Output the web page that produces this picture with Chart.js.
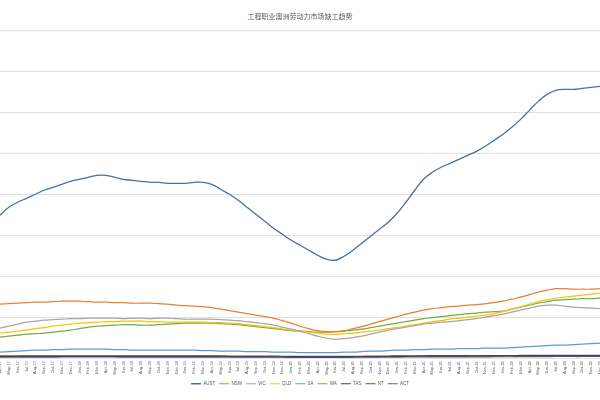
<!DOCTYPE html>
<html>
<head>
<meta charset="utf-8">
<script src="https://cdn.jsdelivr.net/npm/chart.js@4.4.0/dist/chart.umd.min.js"></script>
<style>
  body { margin: 0; background: #fff; }
  #wrap { width: 600px; height: 400px; }
</style>
</head>
<body>
<div id="wrap"><canvas id="trendChart" width="600" height="400"></canvas></div>
<script>
const months = [
  "Apr-17", "May-17", "Jun-17", "Jul-17", "Aug-17", "Sep-17", "Oct-17", "Nov-17", "Dec-17",
  "Jan-18", "Feb-18", "Mar-18", "Apr-18", "May-18", "Jun-18", "Jul-18", "Aug-18", "Sep-18", "Oct-18", "Nov-18", "Dec-18",
  "Jan-19", "Feb-19", "Mar-19", "Apr-19", "May-19", "Jun-19", "Jul-19", "Aug-19", "Sep-19", "Oct-19", "Nov-19", "Dec-19",
  "Jan-20", "Feb-20", "Mar-20", "Apr-20", "May-20", "Jun-20", "Jul-20", "Aug-20", "Sep-20", "Oct-20", "Nov-20", "Dec-20",
  "Jan-21", "Feb-21", "Mar-21", "Apr-21", "May-21", "Jun-21", "Jul-21", "Aug-21", "Sep-21", "Oct-21", "Nov-21", "Dec-21",
  "Jan-22", "Feb-22", "Mar-22", "Apr-22", "May-22", "Jun-22", "Jul-22", "Aug-22", "Sep-22", "Oct-22", "Nov-22", "Dec-22"
];

const aust = [
  3490, 3683, 3805, 3902, 4000, 4098, 4171, 4244, 4317, 4366, 4415, 4463, 4463, 4415, 4366, 4341, 4317,
  4293, 4293, 4268, 4268, 4268, 4293, 4293, 4244, 4122, 4000, 3854, 3683, 3512, 3341, 3171, 3024, 2878,
  2756, 2634, 2512, 2415, 2390, 2488, 2634, 2805, 2976, 3146, 3317, 3537, 3805, 4098, 4366, 4537, 4659,
  4756, 4854, 4951, 5049, 5171, 5317, 5463, 5634, 5829, 6049, 6268, 6439, 6537, 6561, 6561, 6585, 6610, 6634
];
const nsw = [
  1317, 1329, 1341, 1354, 1366, 1366, 1378, 1390, 1390, 1390, 1378, 1366, 1366, 1354, 1354, 1341, 1341,
  1341, 1329, 1317, 1293, 1280, 1268, 1256, 1232, 1195, 1159, 1122, 1085, 1049, 1012, 976, 915, 854,
  780, 720, 671, 646, 646, 671, 720, 768, 829, 890, 951, 1012, 1073, 1122, 1171, 1207, 1232,
  1256, 1268, 1293, 1305, 1329, 1354, 1390, 1439, 1488, 1549, 1610, 1659, 1695, 1695, 1683, 1683, 1683, 1695
];
const vic = [
  732, 780, 829, 878, 902, 927, 939, 951, 963, 963, 976, 976, 976, 976, 963, 976, 976,
  963, 976, 976, 963, 951, 951, 951, 951, 939, 927, 915, 890, 866, 841, 805, 756, 707,
  659, 598, 537, 488, 463, 476, 500, 537, 585, 634, 683, 720, 756, 793, 829, 854, 878,
  890, 915, 939, 963, 1000, 1037, 1073, 1122, 1171, 1220, 1268, 1293, 1293, 1268, 1244, 1232, 1220, 1207
];
const qld = [
  610, 634, 659, 683, 720, 744, 780, 805, 829, 854, 866, 878, 890, 890, 902, 902, 902,
  890, 890, 878, 878, 878, 878, 878, 866, 866, 854, 841, 817, 793, 768, 744, 707, 683,
  659, 634, 610, 585, 585, 598, 610, 634, 659, 683, 720, 744, 780, 817, 854, 890, 915,
  951, 976, 1000, 1024, 1049, 1085, 1134, 1195, 1256, 1317, 1378, 1427, 1463, 1488, 1512, 1537, 1561, 1585
];
const sa = [
  146, 159, 171, 183, 195, 195, 207, 207, 220, 220, 220, 220, 220, 207, 207, 195, 195,
  195, 195, 195, 195, 195, 195, 183, 183, 171, 171, 171, 159, 159, 159, 146, 146, 146,
  134, 134, 134, 134, 134, 146, 146, 159, 171, 171, 183, 195, 195, 207, 207, 220, 220,
  220, 232, 232, 232, 244, 244, 244, 256, 268, 280, 293, 305, 317, 317, 329, 341, 354, 366
];
const wa = [
  512, 537, 561, 585, 598, 610, 634, 659, 683, 720, 756, 780, 793, 805, 817, 817, 805,
  805, 817, 829, 841, 854, 854, 854, 854, 841, 829, 817, 793, 768, 744, 720, 695, 671,
  659, 646, 634, 634, 646, 659, 683, 707, 744, 780, 817, 854, 890, 927, 963, 988, 1012,
  1037, 1061, 1085, 1098, 1122, 1134, 1146, 1195, 1244, 1293, 1341, 1378, 1415, 1427, 1439, 1451, 1451, 1463
];
const tas = [
  40, 40, 41, 42, 42, 43, 43, 44, 44, 45, 45, 45, 45, 45, 44, 44, 44,
  44, 44, 43, 43, 43, 43, 42, 42, 41, 40, 39, 38, 37, 36, 35, 34, 33,
  32, 31, 30, 30, 30, 31, 33, 35, 37, 39, 41, 43, 45, 47, 48, 49, 50,
  50, 51, 52, 53, 54, 55, 56, 57, 58, 59, 60, 61, 62, 62, 62, 62, 63, 63
];
const nt = [
  55, 55, 56, 56, 57, 57, 57, 58, 58, 58, 58, 58, 58, 57, 57, 57, 57,
  57, 56, 56, 56, 56, 56, 55, 55, 54, 53, 52, 51, 50, 49, 48, 47, 46,
  45, 44, 43, 43, 43, 44, 45, 47, 49, 51, 53, 55, 57, 58, 59, 60, 60,
  61, 61, 62, 62, 63, 63, 64, 65, 66, 67, 68, 69, 70, 70, 70, 70, 71, 71
];
const act = [
  25, 25, 26, 26, 27, 27, 27, 28, 28, 28, 28, 28, 28, 28, 27, 27, 27,
  27, 27, 27, 26, 26, 26, 26, 26, 25, 25, 24, 24, 23, 23, 22, 22, 21,
  21, 20, 20, 20, 20, 21, 22, 23, 24, 25, 26, 27, 28, 29, 30, 30, 31,
  31, 32, 32, 33, 33, 34, 34, 35, 36, 37, 38, 39, 40, 40, 40, 40, 41, 41
];

const seriesNames = ["AUST", "NSW", "VIC", "QLD", "SA", "WA", "TAS", "NT", "ACT"];
const seriesData = [aust, nsw, vic, qld, sa, wa, tas, nt, act];
const seriesColors = ["#4a6fa5", "#ED7D31", "#A5A5A5", "#FFC000", "#5B9BD5", "#70AD47", "#264478", "#9E480E", "#636363"];

const ctx = document.getElementById("trendChart").getContext("2d");
new Chart(ctx, {
  type: "line",
  data: {
    labels: months,
    datasets: seriesNames.map((name, i) => ({
      label: name,
      data: seriesData[i],
      borderColor: seriesColors[i],
      backgroundColor: seriesColors[i],
      borderWidth: i === 0 ? 1.3 : 1.2,
      pointRadius: 0,
      tension: 0.4,
      fill: false
    }))
  },
  options: {
    responsive: false,
    animation: false,
    layout: { padding: { left: 0, right: 0, top: 0, bottom: 4 } },
    plugins: {
      title: {
        display: true,
        text: "工程职业澳洲劳动力市场缺工趋势",
        color: "#595959",
        font: { family: "'Noto Sans CJK SC', sans-serif", size: 7, weight: "normal" },
        padding: { top: 12, bottom: 10 }
      },
      legend: {
        position: "bottom",
        labels: {
          usePointStyle: true,
          pointStyle: "line",
          pointStyleWidth: 10,
          boxHeight: 4,
          padding: 4,
          color: "#595959",
          font: { family: "'Liberation Sans', sans-serif", size: 4.5 }
        }
      },
      tooltip: { enabled: false }
    },
    scales: {
      x: {
        grid: { display: false, drawTicks: false, tickLength: 0 },
        border: { display: false },
        afterFit(scale) {
          scale.paddingLeft = 0;
          scale.paddingRight = 0;
        },
        ticks: {
          autoSkip: false,
          maxRotation: 90,
          minRotation: 90,
          padding: 3,
          color: "#595959",
          font: { family: "'Liberation Sans', sans-serif", size: 4 }
        }
      },
      y: {
        min: 0,
        max: 8000,
        grid: { color: "#d9d9d9", lineWidth: 0.8, drawTicks: false },
        border: { display: false },
        afterFit(scale) {
          scale.width = 0;
        },
        ticks: { stepSize: 1000, display: false }
      }
    }
  }
});
</script>
</body>
</html>
